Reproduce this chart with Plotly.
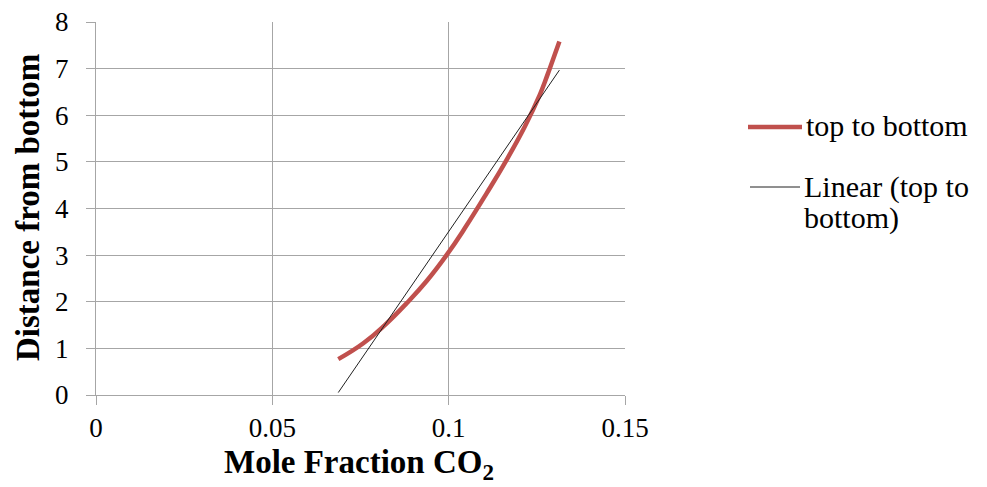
import numpy as np
import plotly.graph_objects as go

# Measured profile: CO2 mole fraction vs. distance from the bottom
mole_fraction = [0.0687, 0.0758, 0.0819, 0.0881, 0.0937, 0.0994, 0.1046,
                 0.1108, 0.1164, 0.1216, 0.1259, 0.1273, 0.1287, 0.1314]
distance = [0.77, 1.11, 1.50, 1.97, 2.44, 3.00, 3.58,
            4.33, 5.04, 5.76, 6.45, 6.72, 7.01, 7.58]

x_ticks = [0, 0.05, 0.1, 0.15]
x_tick_text = ["0", "0.05", "0.1", "0.15"]
y_ticks = [0, 1, 2, 3, 4, 5, 6, 7, 8]

series_name = "top to bottom"
trend_lines = ["Linear (top to", "bottom)"]

RED = "#c0504d"
GRID = "#a6a6a6"
FONT = "Liberation Serif, Times New Roman, serif"

# Least-squares linear trendline over the data range
slope, intercept = np.polyfit(mole_fraction, distance, 1)
trend_x = [min(mole_fraction), max(mole_fraction)]
trend_y = [slope * v + intercept for v in trend_x]

fig = go.Figure()
fig.add_trace(go.Scatter(
    x=mole_fraction, y=distance, mode="lines", name=series_name,
    line=dict(color=RED, width=4.5, shape="spline", smoothing=1.3),
    showlegend=False,
))
fig.add_trace(go.Scatter(
    x=trend_x, y=trend_y, mode="lines", name="Linear (top to bottom)",
    line=dict(color="#202020", width=1),
    showlegend=False,
))

# Plot-area geometry (pixels) used to place the side legend and titles
L, R, T, B = 96, 625, 22, 395
W, H = 987, 487


def px(xp):
    return (xp - L) / (R - L)


def py(yp):
    return (B - yp) / (B - T)


def label(text, xp, yp, size, xanchor="left", angle=0):
    fig.add_annotation(xref="paper", yref="paper", x=px(xp), y=py(yp),
                       xanchor=xanchor, yanchor="middle", align="left",
                       text=text, showarrow=False, textangle=angle,
                       font=dict(family=FONT, size=size, color="#000000"))


# Side legend
fig.add_shape(type="line", xref="paper", yref="paper",
              x0=px(748), x1=px(802), y0=py(127), y1=py(127),
              line=dict(color=RED, width=4.5))
label(series_name, 804, 126, 30)
fig.add_shape(type="line", xref="paper", yref="paper",
              x0=px(750), x1=px(800), y0=py(187), y1=py(187),
              line=dict(color="#202020", width=1))
label(trend_lines[0], 802, 187, 30)
label(trend_lines[1], 802, 218, 30)

# Axis titles
label("<b>Mole Fraction CO<sub>2</sub></b>", 359, 465, 33, xanchor="center")
label("<b>Distance from bottom</b>", 28, 208, 33, xanchor="center", angle=-90)

axis_common = dict(
    showgrid=True, gridcolor=GRID, gridwidth=1,
    showline=True, linecolor=GRID, linewidth=1,
    ticks="outside", ticklen=9, tickcolor=GRID,
    tickfont=dict(family=FONT, size=27, color="#000000"),
    zeroline=False, automargin=False,
)

fig.update_layout(
    width=W, height=H,
    margin=dict(l=L, r=W - R, t=T, b=H - B),
    paper_bgcolor="white", plot_bgcolor="white",
    font=dict(family=FONT, color="#000000"),
    xaxis=dict(range=[0, 0.15], tickvals=x_ticks, ticktext=x_tick_text,
               ticklabelstandoff=0, **axis_common),
    yaxis=dict(range=[0, 8], tickvals=y_ticks,
               ticklabelstandoff=12, **axis_common),
)

fig.write_html("out.html")
